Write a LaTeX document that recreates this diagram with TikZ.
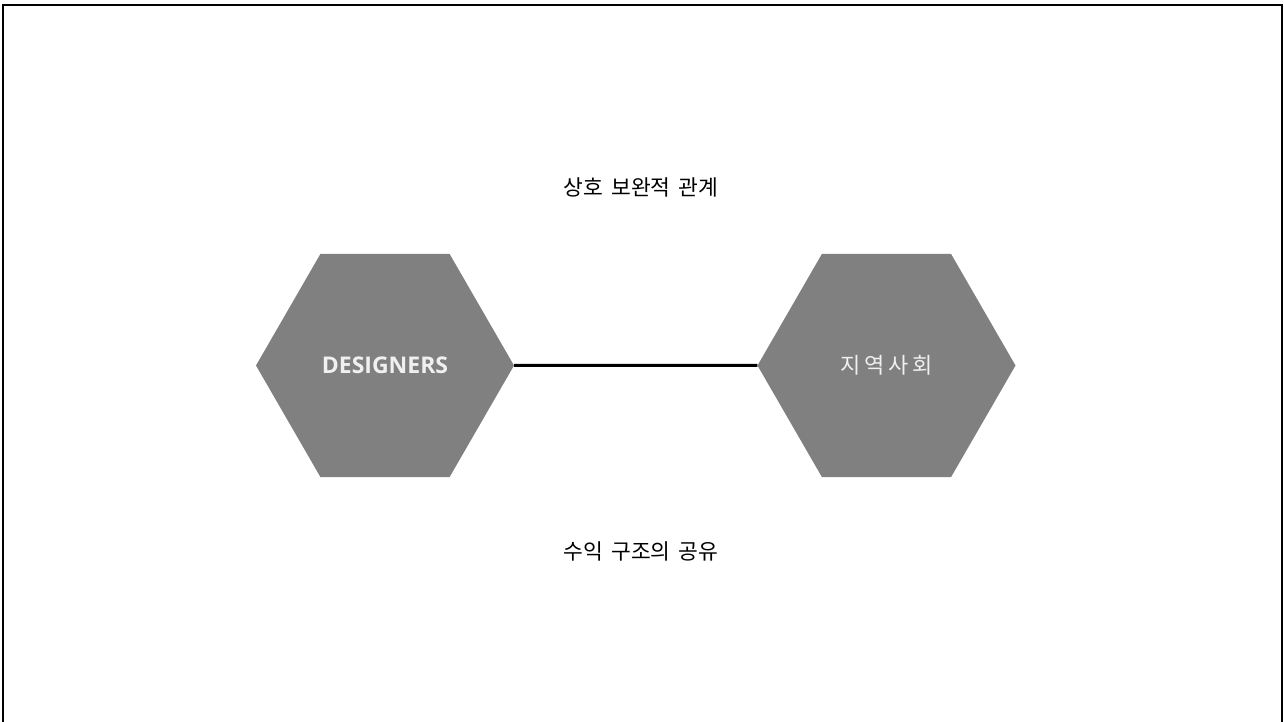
\documentclass[tikz,border=0pt]{standalone}
\usepackage{fontspec}
\setmainfont{Open Sans}
\newfontfamily\kofont{Noto Sans CJK KR}
\usetikzlibrary{shapes.geometric,positioning}

\tikzset{
    hexnode/.style={regular polygon, regular polygon sides=6, fill=hexgray,
        minimum size=258pt, inner sep=0pt, text=white!94!black},
    klabel/.style={font=\kofont\fontsize{21.5}{26}\selectfont, text=black}
}
\definecolor{hexgray}{RGB}{128,128,128}

\begin{document}
\begin{tikzpicture}[x=1pt,y=1pt]
        \useasboundingbox (0,0) rectangle (1284,721);
        % Draw frame
        \draw[line width=2pt] (3,-3) -- (3,716) -- (1282,716) -- (1282,-3);

        % Draw hexagons
        \node[hexnode, font=\bfseries\fontsize{23}{28}\selectfont] (designers) at (385,355.5) {DESIGNERS};
        \node[hexnode, right=243pt of designers, font=\kofont\fontsize{22}{26}\selectfont]
            (community) {지\hspace{4pt}역\hspace{4pt}사\hspace{4pt}회};
        \draw[line width=3pt] (designers) -- (community);

        % Labels
        \node[klabel] (relation) at (641,534) {상호\hspace{3pt} 보완적\hspace{3pt} 관계};
        \node[klabel] (revenue) at (641,170) {수익\hspace{3pt} 구조의\hspace{3pt} 공유};
    \end{tikzpicture}
\end{document}
